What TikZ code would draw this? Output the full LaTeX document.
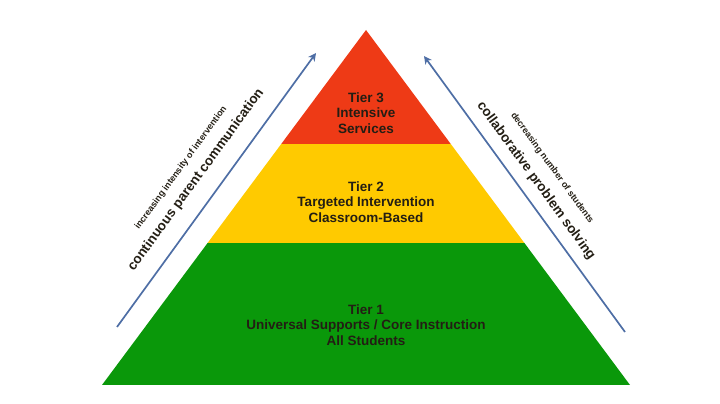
\documentclass[tikz,border=0pt]{standalone}
\usepackage{fontspec}
\setmainfont{Liberation Sans}
\usetikzlibrary{arrows.meta,calc}
\definecolor{tierred}{RGB}{238,58,22}
\definecolor{tieryellow}{RGB}{255,202,0}
\definecolor{tiergreen}{RGB}{10,152,10}
\definecolor{arrowblue}{RGB}{78,110,165}
\definecolor{tiertext}{RGB}{35,30,20}
\begin{document}
\begin{tikzpicture}[x=1pt,y=1pt,every node/.style={inner sep=0pt,text=tiertext},
		tierlabel/.style={align=center,font=\fontsize{13.5}{15.5}\selectfont\bfseries},
		sidelabel/.style={font=\fontsize{13.5}{15}\selectfont\bfseries},
		sidenote/.style={font=\fontsize{9}{10}\selectfont\bfseries},
		sidearrow/.style={draw=arrowblue,line width=1.7pt,-{Stealth[length=8pt,width=8pt]}}]
	\useasboundingbox (0,0) rectangle (720,404);
	\coordinate (apex) at (366,374);
	\coordinate (baseL) at (102,19);
	\coordinate (baseR) at (630,19);
	\coordinate (redL) at ($(apex)!.321!(baseL)$);
	\coordinate (redR) at ($(apex)!.321!(baseR)$);
	\coordinate (yellowL) at ($(apex)!.6!(baseL)$);
	\coordinate (yellowR) at ($(apex)!.6!(baseR)$);
	\fill[tiergreen] (yellowL) -- (yellowR) -- (baseR) -- (baseL) -- cycle;
	\fill[tieryellow] (redL) -- (redR) -- (yellowR) -- (yellowL) -- cycle;
	\fill[tierred] (apex) -- (redR) -- (redL) -- cycle;
	\node[tierlabel,anchor=center] (tier3) at (366,291)
		{Tier 3\\Intensive\\Services};
	\node[tierlabel,anchor=center] (tier2) at (366,202)
		{Tier 2\\Targeted Intervention\\Classroom-Based};
	\node[tierlabel,anchor=center] (tier1) at (366,79)
		{Tier 1\\Universal Supports / Core Instruction\\All Students};
	\coordinate (leftfoot) at (117,77);
	\coordinate (lefttip) at (316,351);
	\coordinate (rightfoot) at (625,72);
	\coordinate (righttip) at (424,348);
	\draw[sidearrow] (leftfoot) -- (lefttip);
	\draw[sidearrow] (rightfoot) -- (righttip);
	\node[sidelabel,rotate=54,anchor=center] (parent) at (196,224)
		{continuous parent communication};
	\node[sidenote,rotate=54,anchor=center] (intensity) at (181,236)
		{increasing intensity of intervention};
	\node[sidelabel,rotate=-54,anchor=center] (solving) at (536,223)
		{collaborative problem solving};
	\node[sidenote,rotate=-54,anchor=center] (students) at (552,236)
		{decreasing number of students};
\end{tikzpicture}
\end{document}
